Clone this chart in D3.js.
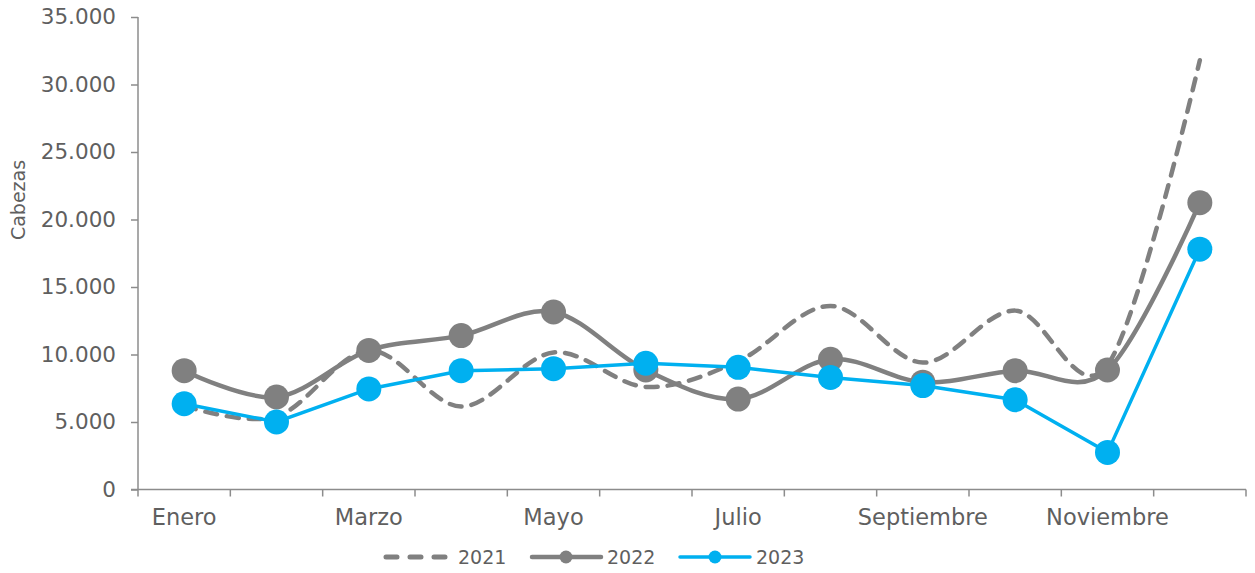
<!DOCTYPE html>
<html><head><meta charset="utf-8">
<script src="https://cdn.jsdelivr.net/npm/d3@7"></script>
<style>body{margin:0;background:#fff}svg text{font-family:"DejaVu Sans",sans-serif;fill:#5f5f5f}</style>
</head><body><svg id="c" width="1255" height="573"></svg>
<script>
const months = ["Enero","Febrero","Marzo","Abril","Mayo","Junio","Julio","Agosto","Septiembre","Octubre","Noviembre","Diciembre"];
const shownLabels = ["Enero","Marzo","Mayo","Julio","Septiembre","Noviembre"];
const yTicks = [0,5000,10000,15000,20000,25000,30000,35000];
const v2021 = [6200,5400,10300,6150,10150,7600,9500,13600,9400,13250,9200,31800];
const v2022 = [8800,6850,10300,11400,13150,8850,6700,9650,7950,8800,8850,21250];
const v2023 = [6350,5000,7450,8800,8950,9350,9050,8300,7700,6650,2750,17800];

const svg = d3.select("#c");
const L=138,R=1246,T=17,B=489.5;
const x = d3.scaleBand().domain(months).range([L,R]).padding(0);
const y = d3.scaleLinear().domain([0,35000]).range([B,T]);
const cx = m => x(m)+x.bandwidth()/2;
const fmt = v => d3.format(",")(v).replace(/,/g,".");
const axisCol="#8c8c8c";

// y axis
const ya = svg.append("g").attr("transform",`translate(${L},0)`)
  .call(d3.axisLeft(y).tickValues(yTicks).tickSize(7).tickPadding(15).tickFormat(fmt));
ya.selectAll("path,line").attr("stroke",axisCol).attr("stroke-width",1.5);
ya.select(".domain").attr("d",`M0,${T}V${B}`);
ya.selectAll("text").style("font-size","21.5px").attr("fill","#5f5f5f");

// x axis
const xa = svg.append("g").attr("transform",`translate(0,${B})`)
  .call(d3.axisBottom(x).tickSize(0).tickPadding(20).tickFormat(d=>shownLabels.includes(d)?d:""));
xa.select(".domain").attr("d",`M${L-7},0H${R}`).attr("stroke",axisCol).attr("stroke-width",1.5);
xa.selectAll("text").style("font-size","22.5px").attr("fill","#5f5f5f");
const bounds = months.map(m=>x(m)).concat([R]);
svg.append("g").selectAll("line").data(bounds).join("line")
  .attr("x1",d=>d).attr("x2",d=>d).attr("y1",B).attr("y2",B+7)
  .attr("stroke",axisCol).attr("stroke-width",1.5);

// y title
svg.append("text").attr("transform","translate(25,200) rotate(-90)")
  .attr("text-anchor","middle").style("font-size","19px").text("Cabezas");

const gray="#808080", blue="#00b0f0";
const smooth = d3.line().x((d,i)=>cx(months[i])).y(d=>y(d)).curve(d3.curveCatmullRom.alpha(0));
const straight = d3.line().x((d,i)=>cx(months[i])).y(d=>y(d));

svg.append("path").attr("d",smooth(v2021)).attr("fill","none").attr("stroke",gray)
  .attr("stroke-width",4.5).attr("stroke-dasharray","12,10").attr("stroke-linecap","round");
svg.append("path").attr("d",smooth(v2022)).attr("fill","none").attr("stroke",gray).attr("stroke-width",4.5);
svg.append("g").selectAll("circle").data(v2022).join("circle")
  .attr("cx",(d,i)=>cx(months[i])).attr("cy",d=>y(d)).attr("r",12.5).attr("fill",gray);
svg.append("path").attr("d",straight(v2023)).attr("fill","none").attr("stroke",blue).attr("stroke-width",3.5);
svg.append("g").selectAll("circle").data(v2023).join("circle")
  .attr("cx",(d,i)=>cx(months[i])).attr("cy",d=>y(d)).attr("r",12.5).attr("fill",blue);

// legend
const ly=557;
const lg=svg.append("g");
lg.append("line").attr("x1",386).attr("x2",446).attr("y1",ly).attr("y2",ly).attr("stroke",gray)
  .attr("stroke-width",5).attr("stroke-dasharray","11,13").attr("stroke-linecap","round");
lg.append("text").attr("x",458).attr("y",ly+7).style("font-size","19px").text("2021");
lg.append("line").attr("x1",532).attr("x2",601).attr("y1",ly).attr("y2",ly).attr("stroke",gray).attr("stroke-width",4.5).attr("stroke-linecap","round");
lg.append("circle").attr("cx",566).attr("cy",ly).attr("r",6.5).attr("fill",gray);
lg.append("text").attr("x",607).attr("y",ly+7).style("font-size","19px").text("2022");
lg.append("line").attr("x1",680).attr("x2",750).attr("y1",ly).attr("y2",ly).attr("stroke",blue).attr("stroke-width",3.5).attr("stroke-linecap","round");
lg.append("circle").attr("cx",715).attr("cy",ly).attr("r",6.5).attr("fill",blue);
lg.append("text").attr("x",756).attr("y",ly+7).style("font-size","19px").text("2023");
</script></body></html>
